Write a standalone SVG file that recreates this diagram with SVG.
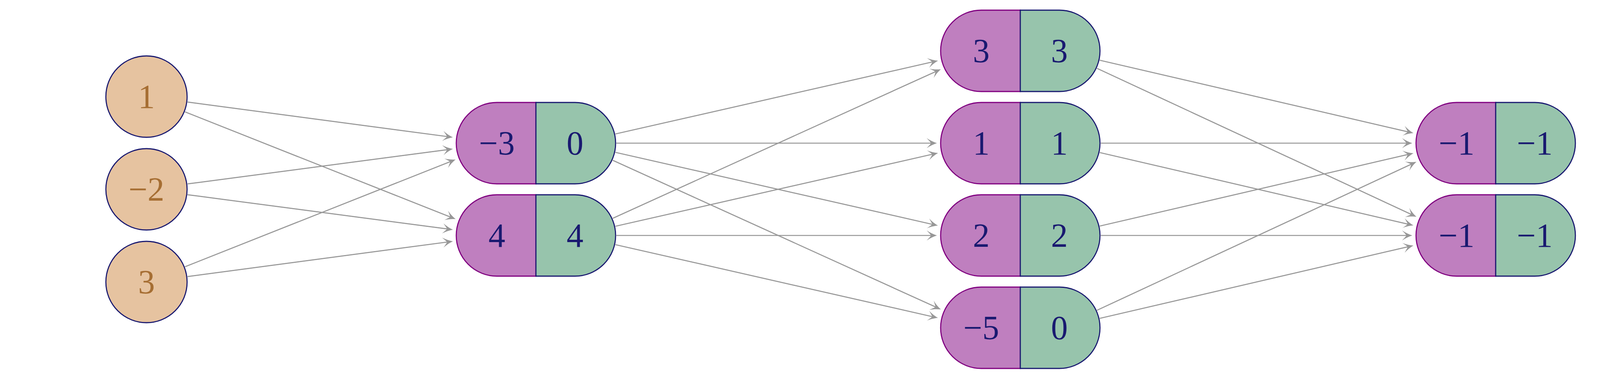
<svg xmlns="http://www.w3.org/2000/svg" width="5655" height="969" viewBox="0 0 5655 969">
<style>
.in circle{fill:#E6C3A0;stroke:#191970;stroke-width:2.8}
.in text{fill:#A66E33}
text{font-family:"Liberation Serif","DejaVu Serif",serif;font-size:86px;text-anchor:middle}
.pl{fill:#BF7FBF;stroke:#800080;stroke-width:2.8}
.pr{fill:#97C4AC;stroke:#191970;stroke-width:2.8}
.pn text{fill:#191970}
#edges line{stroke:#979797;stroke-width:2.7;fill:none;marker-end:url(#arr)}
</style>
<defs>
<marker id="arr" viewBox="-20 -16 36 32" markerWidth="36" markerHeight="32" refX="0" refY="0" orient="auto" markerUnits="userSpaceOnUse">
<path d="M12,0 C4,-2.5 -6,-7 -14,-13 C-9,-7 -4.5,-2.5 -3,0 C-4.5,2.5 -9,7 -14,13 C-6,7 4,2.5 12,0 Z" fill="#979797"/>
</marker>
<path id="L" d="M0,-104 H-100 A104,104 0 0 0 -100,104 H0 Z"/>
<path id="R" d="M0,-104 H100 A104,104 0 0 1 100,104 H0 Z"/>
</defs>
<rect width="5655" height="969" fill="#ffffff"/>
<g id="edges">
<line x1="480.1" y1="260.9" x2="1147.6" y2="349.5"/>
<line x1="473.6" y1="286.0" x2="1155.3" y2="555.8"/>
<line x1="480.1" y1="470.2" x2="1147.6" y2="382.4"/>
<line x1="480.1" y1="497.8" x2="1147.6" y2="585.6"/>
<line x1="473.6" y1="682.0" x2="1155.3" y2="412.2"/>
<line x1="480.1" y1="707.1" x2="1147.6" y2="618.5"/>
<line x1="1575.4" y1="342.5" x2="2389.6" y2="157.8"/>
<line x1="1578" y1="366" x2="2386.5" y2="366"/>
<line x1="1575.4" y1="389.5" x2="2389.6" y2="574.2"/>
<line x1="1568.5" y1="409.8" x2="2397.7" y2="786.1"/>
<line x1="1568.5" y1="558.2" x2="2397.7" y2="181.9"/>
<line x1="1575.4" y1="578.5" x2="2389.6" y2="393.8"/>
<line x1="1578" y1="602" x2="2386.5" y2="602"/>
<line x1="1575.4" y1="625.5" x2="2389.6" y2="810.2"/>
<line x1="2815.3" y1="154.0" x2="3606.8" y2="337.6"/>
<line x1="2808.1" y1="174.6" x2="3615.2" y2="549.2"/>
<line x1="2818" y1="366" x2="3603.5" y2="366"/>
<line x1="2815.3" y1="390.0" x2="3606.8" y2="573.6"/>
<line x1="2815.3" y1="578.0" x2="3606.8" y2="394.4"/>
<line x1="2818" y1="602" x2="3603.5" y2="602"/>
<line x1="2808.1" y1="793.4" x2="3615.2" y2="418.8"/>
<line x1="2815.3" y1="814.0" x2="3606.8" y2="630.4"/>
</g>
<g id="in1" class="in" transform="translate(375,247)"><circle r="104"/><text y="29">1</text></g>
<g id="in2" class="in" transform="translate(375,484)"><circle r="104"/><text y="29">−2</text></g>
<g id="in3" class="in" transform="translate(375,721)"><circle r="104"/><text y="29">3</text></g>
<g id="h1" class="pn" transform="translate(1372,366)"><use href="#L" class="pl"/><use href="#R" class="pr"/><text x="-100" y="29">−3</text><text x="100" y="29">0</text></g>
<g id="h2" class="pn" transform="translate(1372,602)"><use href="#L" class="pl"/><use href="#R" class="pr"/><text x="-100" y="29">4</text><text x="100" y="29">4</text></g>
<g id="g1" class="pn" transform="translate(2612,130)"><use href="#L" class="pl"/><use href="#R" class="pr"/><text x="-100" y="29">3</text><text x="100" y="29">3</text></g>
<g id="g2" class="pn" transform="translate(2612,366)"><use href="#L" class="pl"/><use href="#R" class="pr"/><text x="-100" y="29">1</text><text x="100" y="29">1</text></g>
<g id="g3" class="pn" transform="translate(2612,602)"><use href="#L" class="pl"/><use href="#R" class="pr"/><text x="-100" y="29">2</text><text x="100" y="29">2</text></g>
<g id="g4" class="pn" transform="translate(2612,838)"><use href="#L" class="pl"/><use href="#R" class="pr"/><text x="-100" y="29">−5</text><text x="100" y="29">0</text></g>
<g id="o1" class="pn" transform="translate(3829,366)"><use href="#L" class="pl"/><use href="#R" class="pr"/><text x="-100" y="29">−1</text><text x="100" y="29">−1</text></g>
<g id="o2" class="pn" transform="translate(3829,602)"><use href="#L" class="pl"/><use href="#R" class="pr"/><text x="-100" y="29">−1</text><text x="100" y="29">−1</text></g>
<g id="caption"><text x="4884" y="503" style="font-size:89px;fill:#000">(component style)</text></g>
</svg>
